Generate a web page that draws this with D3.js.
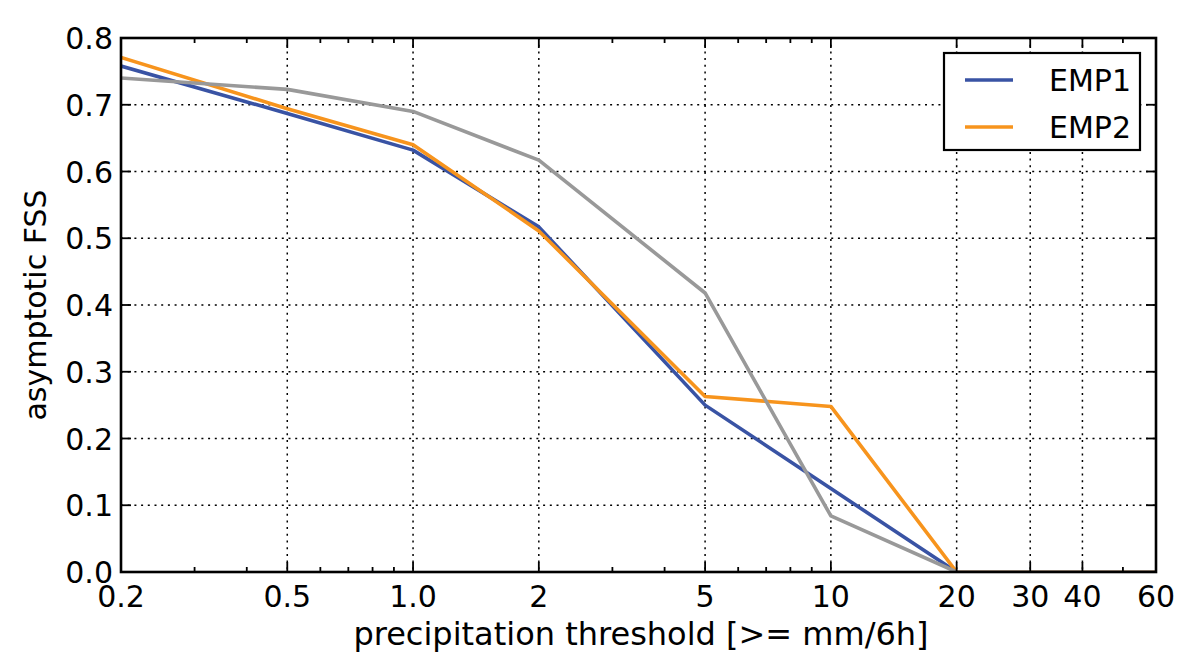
<!DOCTYPE html>
<html>
<head>
<meta charset="utf-8">
<script src="https://d3js.org/d3.v7.min.js"></script>
<style>
  body { margin: 0; background: #fff; }
  svg { font-family: "DejaVu Sans", sans-serif; }
</style>
</head>
<body>
<svg id="chart" width="1200" height="672"></svg>
<script>
// thresholds in mm/6h
const thresholds = [0.2, 0.5, 1.0, 2, 5, 10, 20, 30, 40, 60];
const emp1 = [0.758, 0.687, 0.632, 0.517, 0.250, 0.125, 0.0, 0.0, 0.0, 0.0];
const emp2 = [0.771, 0.694, 0.640, 0.511, 0.263, 0.248, 0.0, 0.0, 0.0, 0.0];
const ref  = [0.740, 0.723, 0.690, 0.617, 0.418, 0.084, 0.0, 0.0, 0.0, 0.0];

const xMajor = [0.2, 0.5, 1.0, 2, 5, 10, 20, 30, 40, 60];
const xLabels = ["0.2", "0.5", "1.0", "2", "5", "10", "20", "30", "40", "60"];
const xMinor = [0.3, 0.4, 0.6, 0.7, 0.8, 0.9, 3, 4, 6, 7, 8, 9, 50];
const yTicks = [0, 0.1, 0.2, 0.3, 0.4, 0.5, 0.6, 0.7, 0.8];

const pLeft = 121, pRight = 1156, pTop = 38, pBottom = 572;

const svg = d3.select("#chart");

const x = d3.scaleLog().domain([0.2, 60]).range([pLeft, pRight]);
const y = d3.scaleLinear().domain([0, 0.8]).range([pBottom, pTop]);

svg.append("defs").append("clipPath").attr("id", "clip")
  .append("rect")
    .attr("x", pLeft).attr("y", pTop)
    .attr("width", pRight - pLeft).attr("height", pBottom - pTop);

// grid
const grid = svg.append("g")
  .attr("stroke", "#000")
  .attr("stroke-width", 1.5)
  .attr("stroke-dasharray", "2,4.7");

grid.selectAll("line.vx")
  .data(xMajor.slice(1, -1))
  .join("line")
    .attr("x1", d => x(d)).attr("x2", d => x(d))
    .attr("y1", pTop).attr("y2", pBottom);

grid.selectAll("line.hy")
  .data(yTicks.slice(1, -1))
  .join("line")
    .attr("y1", d => y(d)).attr("y2", d => y(d))
    .attr("x1", pLeft).attr("x2", pRight);

// series
const series = [
  {name: "EMP1", values: emp1, color: "#3953a4"},
  {name: "EMP2", values: emp2, color: "#f7941d"},
  {name: "", values: ref, color: "#999999"}
];

const line = d3.line()
  .x((d, i) => x(thresholds[i]))
  .y(d => y(d));

svg.append("g")
  .attr("clip-path", "url(#clip)")
  .selectAll("path")
  .data(series)
  .join("path")
    .attr("d", d => line(d.values))
    .attr("fill", "none")
    .attr("stroke", d => d.color)
    .attr("stroke-width", 3.6)
    .attr("stroke-linejoin", "round");

// frame
svg.append("rect")
  .attr("x", pLeft).attr("y", pTop)
  .attr("width", pRight - pLeft).attr("height", pBottom - pTop)
  .attr("fill", "none")
  .attr("stroke", "#000")
  .attr("stroke-width", 2.6);

// ticks (inward, on all four sides)
const ticks = svg.append("g").attr("stroke", "#000").attr("stroke-width", 1.8);
function xTicks(data, len) {
  ticks.selectAll(null).data(data).join("line")
    .attr("x1", d => x(d)).attr("x2", d => x(d))
    .attr("y1", pBottom).attr("y2", pBottom - len);
  ticks.selectAll(null).data(data).join("line")
    .attr("x1", d => x(d)).attr("x2", d => x(d))
    .attr("y1", pTop).attr("y2", pTop + len);
}
xTicks(xMajor, 10);
xTicks(xMinor, 5);
ticks.selectAll(null).data(yTicks).join("line")
  .attr("x1", pLeft).attr("x2", pLeft + 10)
  .attr("y1", d => y(d)).attr("y2", d => y(d));
ticks.selectAll(null).data(yTicks).join("line")
  .attr("x1", pRight).attr("x2", pRight - 10)
  .attr("y1", d => y(d)).attr("y2", d => y(d));

// tick labels
svg.append("g")
  .selectAll("text")
  .data(xMajor)
  .join("text")
    .attr("x", d => x(d))
    .attr("y", 607)
    .attr("text-anchor", "middle")
    .attr("font-size", 30)
    .text((d, i) => xLabels[i]);

svg.append("g")
  .selectAll("text")
  .data(yTicks)
  .join("text")
    .attr("x", pLeft - 8)
    .attr("y", d => y(d) + 11)
    .attr("text-anchor", "end")
    .attr("font-size", 30)
    .text(d => d.toFixed(1));

// axis labels
svg.append("text")
  .attr("x", 641)
  .attr("y", 645)
  .attr("text-anchor", "middle")
  .attr("font-size", 32)
  .text("precipitation threshold [>= mm/6h]");

svg.append("text")
  .attr("transform", `translate(46,${(pTop + pBottom) / 2}) rotate(-90)`)
  .attr("text-anchor", "middle")
  .attr("font-size", 30)
  .text("asymptotic FSS");

// legend
const legend = svg.append("g");
legend.append("rect")
  .attr("x", 944).attr("y", 53)
  .attr("width", 196).attr("height", 97)
  .attr("fill", "#fff")
  .attr("stroke", "#000")
  .attr("stroke-width", 2.2);

const items = series.filter(d => d.name);
legend.selectAll("line")
  .data(items)
  .join("line")
    .attr("x1", 965).attr("x2", 1013)
    .attr("y1", (d, i) => 80 + i * 47)
    .attr("y2", (d, i) => 80 + i * 47)
    .attr("stroke", d => d.color)
    .attr("stroke-width", 3.6);

legend.selectAll("text")
  .data(items)
  .join("text")
    .attr("x", 1131)
    .attr("y", (d, i) => 91 + i * 47)
    .attr("text-anchor", "end")
    .attr("font-size", 30)
    .text(d => d.name);
</script>
</body>
</html>
